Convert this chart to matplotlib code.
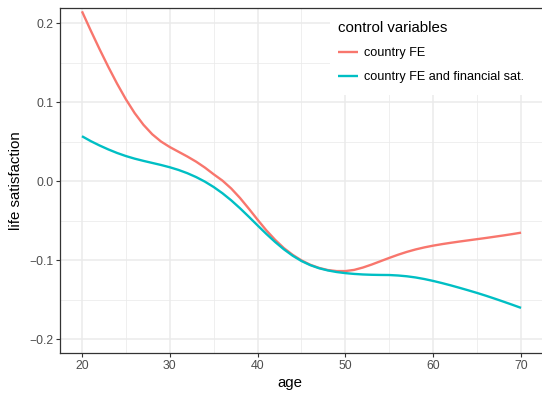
import matplotlib
import matplotlib.pyplot as plt
from matplotlib.patches import Rectangle
from matplotlib.ticker import MultipleLocator

matplotlib.use("Agg")

plt.rcParams["font.family"] = ["Liberation Sans", "DejaVu Sans"]

# one value per year of age
age = list(range(20, 71))
fe_only = [
    0.2148, 0.1905, 0.1670, 0.1445, 0.1232, 0.1035, 0.0860, 0.0712, 0.0592, 0.0500,
    0.0430, 0.0370, 0.0310, 0.0245, 0.0170, 0.0085, 0.0005, -0.0095, -0.0215, -0.0350,
    -0.0490, -0.0625, -0.0745, -0.0850, -0.0935, -0.1005, -0.1060, -0.1100, -0.1127, -0.1140,
    -0.1140, -0.1125, -0.1095, -0.1057, -0.1015, -0.0973, -0.0933, -0.0897, -0.0866, -0.0840,
    -0.0818, -0.0799, -0.0782, -0.0766, -0.0751, -0.0736, -0.0721, -0.0705, -0.0689, -0.0672,
    -0.0654,
]
fe_fin = [
    0.0567, 0.0505, 0.0450, 0.0400, 0.0355, 0.0316, 0.0283, 0.0255, 0.0229, 0.0203,
    0.0174, 0.0140, 0.0099, 0.0050, -0.0008, -0.0076, -0.0155, -0.0245, -0.0345, -0.0452,
    -0.0562, -0.0670, -0.0772, -0.0865, -0.0946, -0.1013, -0.1065, -0.1104, -0.1132, -0.1152,
    -0.1166, -0.1176, -0.1183, -0.1187, -0.1189, -0.1190, -0.1196, -0.1206, -0.1221, -0.1241,
    -0.1265, -0.1292, -0.1321, -0.1352, -0.1384, -0.1417, -0.1452, -0.1489, -0.1527, -0.1566,
    -0.1606,
]
series_labels = ["country FE", "country FE and financial sat."]
series_colors = ["#F8766D", "#00BFC4"]

W, H = 542, 395
fig = plt.figure(figsize=(W / 100, H / 100), dpi=100)
# panel in pixels: left 60, right 543, top 8, bottom 353
ax = fig.add_axes((60 / W, (H - 353) / H, 483 / W, 345 / H))

for ys, lab, col in zip([fe_only, fe_fin], series_labels, series_colors):
    ax.plot(age, ys, color=col, lw=1.7, label=lab, zorder=3, solid_capstyle="butt")

ax.set_xlim(17.5, 72.5)
ax.set_ylim(-0.2177, 0.219)
ax.xaxis.set_major_locator(MultipleLocator(10))
ax.xaxis.set_minor_locator(MultipleLocator(5))
ax.yaxis.set_major_locator(MultipleLocator(0.1))
ax.yaxis.set_minor_locator(MultipleLocator(0.05))
ax.set_yticks([-0.2, -0.1, 0.0, 0.1, 0.2])
ax.set_yticklabels(["\u22120.2", "\u22120.1", "0.0", "0.1", "0.2"])

ax.set_axisbelow(True)
ax.grid(which="major", color="#EBEBEB", lw=1.1)
ax.grid(which="minor", color="#EBEBEB", lw=0.55)
for sp in ax.spines.values():
    sp.set_color("#333333")
    sp.set_linewidth(0.9)
ax.tick_params(which="major", length=2.7, width=0.8, color="#333333",
               labelsize=8.8, labelcolor="#4D4D4D", pad=2.2)
ax.tick_params(which="minor", length=0)

ax.set_xlabel("age", fontsize=10.8)
ax.set_ylabel("life satisfaction", fontsize=10.8)
ax.xaxis.set_label_coords((290 - 60) / 483, -(383 - 353) / 345, transform=ax.transAxes)
ax.yaxis.set_label_coords(-(60 - 16) / 483, 0.5, transform=ax.transAxes)
ax.xaxis.label.set_va("center")
ax.yaxis.label.set_va("center")

# white legend background box inside the panel
ax.add_patch(Rectangle(((330 - 60) / 483, (353 - 95) / 345), 1.0, 1.0,
                       transform=ax.transAxes, facecolor="white", edgecolor="none",
                       zorder=1.5))

leg = ax.legend(title="control variables", loc="upper left",
                bbox_to_anchor=((338 - 60) / 483, (353 - 21) / 345),
                frameon=False, fontsize=9.1, title_fontsize=10.8,
                alignment="left", borderpad=0, borderaxespad=0,
                handlelength=1.55, handletextpad=0.5, labelspacing=0.95)
leg.set_zorder(4)
for h in leg.legend_handles:
    h.set_linewidth(1.7)

fig.savefig("out.png", dpi=100)
